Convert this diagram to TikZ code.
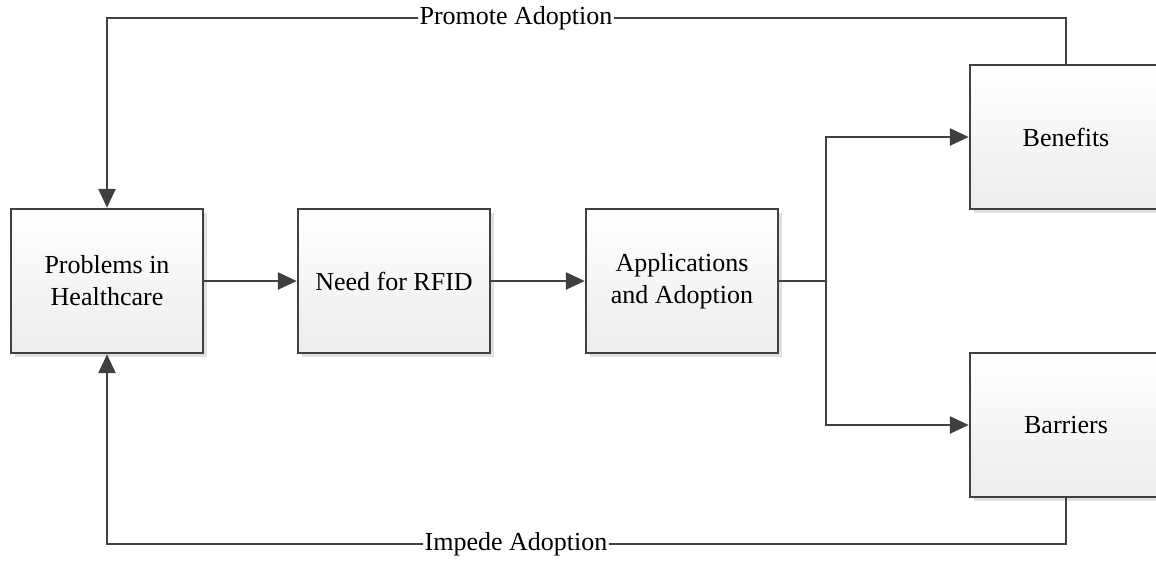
\documentclass[tikz,border=0pt]{standalone}
\usepackage{fontspec}
\setmainfont{Liberation Serif}
\usetikzlibrary{arrows.meta,shadows}
\definecolor{lc}{HTML}{404040}
\begin{document}
\begin{tikzpicture}[x=1pt,y=-1pt,
  box/.style={draw=lc,line width=2.4pt,minimum width=192pt,minimum height=144pt,
    top color=white,bottom color=black!7,align=center,
    font=\fontsize{26}{32}\selectfont,
    drop shadow={shadow xshift=4pt,shadow yshift=-4pt,opacity=0.12,fill=black}},
  conn/.style={draw=lc,line width=2.6pt},
  arr/.style={conn,-{Triangle[length=19pt,width=17pt]}},
  lbl/.style={fill=white,inner sep=1pt,font=\fontsize{26}{32}\selectfont}]
\useasboundingbox (0,0) rectangle (1156,562);
\node[box] (prob) at (107,281) {Problems in\\Healthcare};
\node[box] (need) at (394,281) {Need for RFID};
\node[box] (app) at (682,281) {Applications\\and Adoption};
\node[box] (ben) at (1066,137) {Benefits};
\node[box] (bar) at (1066,425) {Barriers};
\node[lbl] (prom) at (516,18) {Promote Adoption};
\node[lbl] (imp) at (516,544) {Impede Adoption};
\coordinate (br) at (826,281);
\draw[arr] (prob) -- (need);
\draw[arr] (need) -- (app);
\draw[conn] (app) -- (br);
\draw[arr] (br) |- (ben.west);
\draw[arr] (br) |- (bar.west);
\draw[conn] (ben.north) |- (prom.east);
\draw[arr] (prom.west) -| (prob.north);
\draw[conn] (bar.south) |- (imp.east);
\draw[arr] (imp.west) -| (prob.south);
\end{tikzpicture}
\end{document}
